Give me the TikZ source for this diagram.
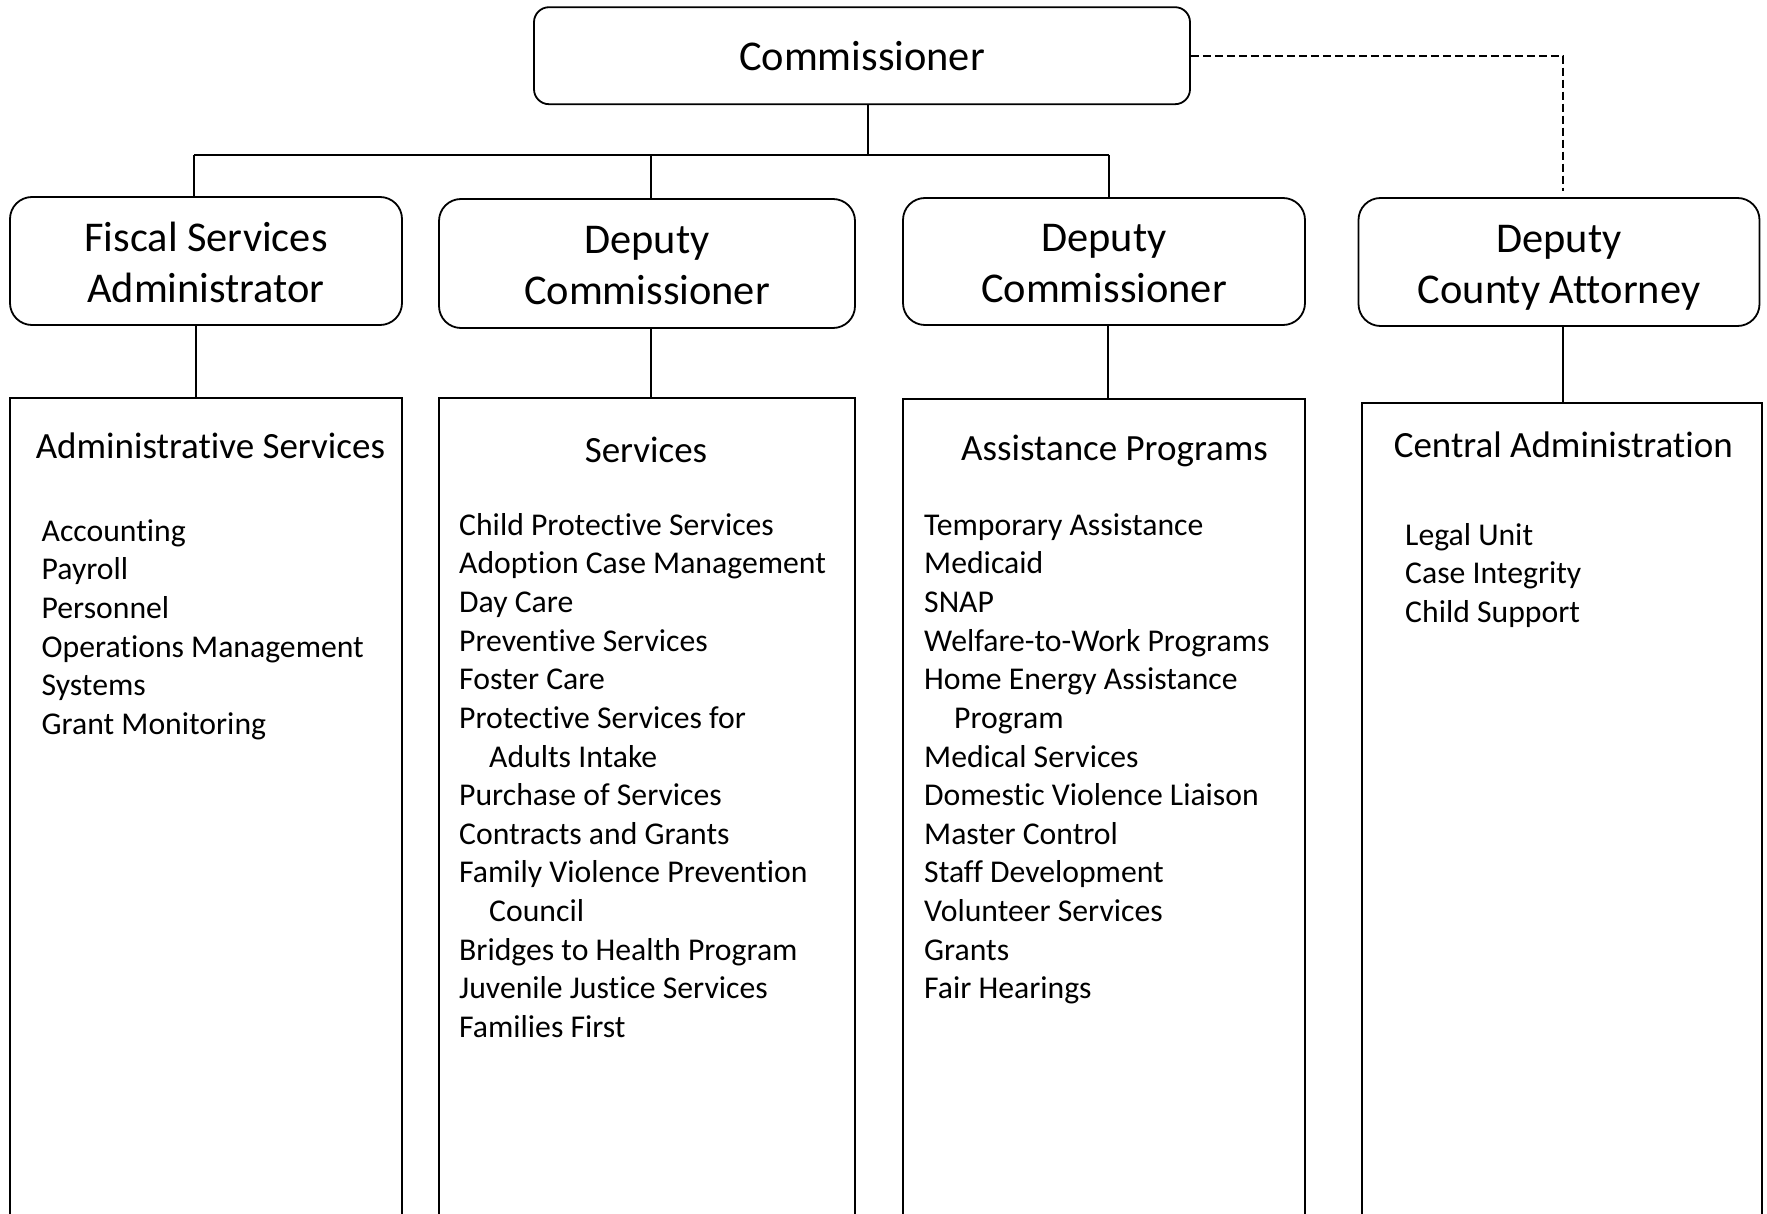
\documentclass[tikz,border=0pt]{standalone}
\usepackage{fontspec}
\setmainfont{Carlito}[Ligatures=NoCommon]
\begin{document}
\begin{tikzpicture}[x=1pt,y=-1pt,
  topbox/.style={draw, line width=1.8pt, rounded corners=15pt, minimum width=656pt, minimum height=97pt, inner sep=0pt, font=\fontsize{42.4}{51}\selectfont},
  midbox/.style={draw, line width=1.8pt, rounded corners=22pt, inner sep=0pt, text height=41.3pt, text depth=60.7pt, font=\fontsize{42.4}{51}\selectfont},
  unitbox/.style={draw, line width=1.8pt, anchor=north, minimum height=840pt, inner sep=0pt},
  unittitle/.style={inner sep=0pt, font=\fontsize{37}{44}\selectfont},
  unitlist/.style={inner sep=0pt, anchor=base west, font=\fontsize{31.7}{38.62}\selectfont},
  conn/.style={line width=1.5pt},
  dashconn/.style={line width=2pt, dash pattern=on 8pt off 4pt}]
\fill[white] (0,0) rectangle (1767,1214);
\useasboundingbox (0,0) rectangle (1767,1214);

% top
\node[topbox] (comm) at (862,55.7) {Commissioner};

% second level
\node[midbox, minimum width=392pt, minimum height=128pt] (fiscal) at (206,261)
  {\begin{tabular}[t]{@{}c@{}}Fiscal Services\\Administrator\end{tabular}};
\node[midbox, minimum width=416pt, minimum height=129pt] (dep1) at (647,263.5)
  {\begin{tabular}[t]{@{}c@{}}Deputy\\Commissioner\end{tabular}};
\node[midbox, minimum width=402pt, minimum height=127pt] (dep2) at (1104,261.5)
  {\begin{tabular}[t]{@{}c@{}}Deputy\\Commissioner\end{tabular}};
\node[midbox, minimum width=401pt, minimum height=128pt] (dca) at (1559,262)
  {\begin{tabular}[t]{@{}c@{}}Deputy\\County Attorney\end{tabular}};

% lower units
\node[unitbox, minimum width=392pt] (admin) at (206,397) {};
\node[unitbox, minimum width=416pt] (svc) at (647,397.5) {};
\node[unitbox, minimum width=402pt] (assist) at (1104,398) {};
\node[unitbox, minimum width=400pt] (central) at (1562,402.5) {};

% unit texts
\node[unittitle, anchor=base west] (admintitle) at (35.6,458.8) {Administrative Services};
\node[unitlist] (adminlist) at (41.5,541.2) {\begin{tabular}[t]{@{}l@{}}
Accounting\\ Payroll\\ Personnel\\ Operations Management\\ Systems\\ Grant Monitoring
\end{tabular}};

\node[unittitle, anchor=base] (svctitle) at (646,462) {Services};
\node[unitlist] (svclist) at (459,535.3) {\begin{tabular}[t]{@{}l@{}}
Child Protective Services\\ Adoption Case Management\\ Day Care\\ Preventive Services\\
Foster Care\\ Protective Services for\\ \hspace*{30pt}Adults Intake\\ Purchase of Services\\
Contracts and Grants\\ Family Violence Prevention\\ \hspace*{30pt}Council\\
Bridges to Health Program\\ Juvenile Justice Services\\ Families First
\end{tabular}};

\node[unittitle, anchor=base west] (assisttitle) at (961,460) {Assistance Programs};
\node[unitlist] (assistlist) at (924,535.3) {\begin{tabular}[t]{@{}l@{}}
Temporary Assistance\\ Medicaid\\ SNAP\\ Welfare-to-Work Programs\\
Home Energy Assistance\\ \hspace*{30pt}Program\\ Medical Services\\
Domestic Violence Liaison\\ Master Control\\ Staff Development\\
Volunteer Services\\ Grants\\ Fair Hearings
\end{tabular}};

\node[unittitle, anchor=base west] (centraltitle) at (1393.6,457) {Central Administration};
\node[unitlist] (centrallist) at (1405,545.3) {\begin{tabular}[t]{@{}l@{}}
Legal Unit\\ Case Integrity\\ Child Support
\end{tabular}};

% connector coordinates
\coordinate (bus) at (868,155);
\coordinate (busL) at (194,155);
\coordinate (busM) at (651,155);
\coordinate (busR) at (1109,155);
\coordinate (xs1) at (196,0);
\coordinate (xs2) at (651,0);
\coordinate (xs3) at (1108,0);
\coordinate (xs4) at (1563,0);
\coordinate (dashcorner) at (1563,55.7);
\coordinate (dashend) at (1563,191);

% connectors
\draw[conn] (comm.south -| bus) -- (bus);
\draw[conn] (busL) -- (busR);
\draw[conn] (busL) -- (busL |- fiscal.north);
\draw[conn] (busM) -- (busM |- dep1.north);
\draw[conn] (busR) -- (busR |- dep2.north);

\draw[conn] (fiscal.south -| xs1) -- (admin.north -| xs1);
\draw[conn] (dep1.south -| xs2) -- (svc.north -| xs2);
\draw[conn] (dep2.south -| xs3) -- (assist.north -| xs3);
\draw[conn] (dca.south -| xs4) -- (central.north -| xs4);

\draw[dashconn] (comm.east) -- (dashcorner) -- (dashend);
\end{tikzpicture}
\end{document}
